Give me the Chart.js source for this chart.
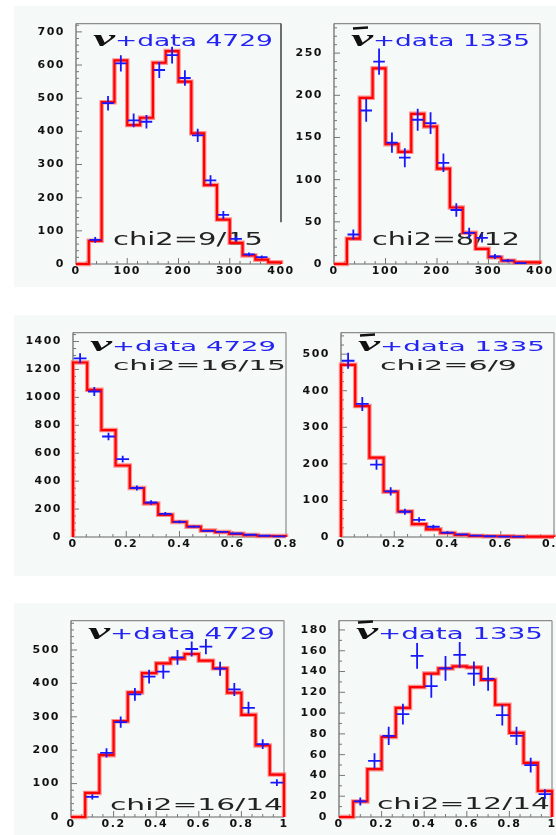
<!DOCTYPE html>
<html>
<head>
<meta charset="utf-8">
<script src="https://cdn.jsdelivr.net/npm/chart.js@4.4.0/dist/chart.umd.min.js"></script>
<style>
html, body { margin: 0; padding: 0; background: #fff; width: 556px; height: 835px; overflow: hidden; }
body { position: relative; }
.band { position: absolute; left: 14px; width: 542px; background: #f5f9f7; }
.box { position: absolute; }
</style>
</head>
<body>
<div class="band" style="top:6px;height:281px"></div>
<div class="band" style="top:315px;height:261px"></div>
<div class="band" style="top:603px;height:232px"></div>

<div class="box" id="b1"><canvas id="c1"></canvas></div>
<div class="box" id="b2"><canvas id="c2"></canvas></div>
<div class="box" id="b3"><canvas id="c3"></canvas></div>
<div class="box" id="b4"><canvas id="c4"></canvas></div>
<div class="box" id="b5"><canvas id="c5"></canvas></div>
<div class="box" id="b6"><canvas id="c6"></canvas></div>

<script>
// bin ranges (lo, hi) for each row, number of bins comes from the arrays
const rangeTop = [0, 400];
const rangeMid = [0, 0.8];
const rangeBot = [0, 1];

// top row: nu / nubar, 16 bins of 25
const nuTopMC    = [0, 70, 488, 614, 419, 441, 607, 642, 550, 394, 238, 134, 64, 26, 13, 5];
const nuTopData  = [0, 73, 485, 605, 433, 429, 585, 630, 561, 388, 252, 148, 76, 29, 21, 0];
const anuTopMC   = [0, 30, 197, 232, 142, 133, 178, 163, 113, 67, 37, 18, 8, 4, 2, 2];
const anuTopData = [0, 35, 182, 240, 144, 126, 171, 167, 120, 64, 37, 31, 9, 4, 1, 0];

// middle row: 15 bins from 0 to 0.8
const nuMidMC    = [1250, 1054, 766, 512, 351, 240, 159, 108, 74, 46, 35, 23, 14, 7, 7];
const nuMidData  = [1280, 1042, 720, 558, 351, 247, 166, 108, 74, 44, 37, 25, 16, 9, 5];
const anuMidMC   = [471, 358, 217, 124, 70, 35, 21, 11, 6, 3, 2, 2, 1, 1, 1];
const anuMidData = [482, 364, 198, 125, 69, 47, 28, 12, 7, 4, 2, 1, 1, 0, 0];

// bottom row: 15 bins from 0 to 1
const nuBotMC    = [0, 72, 185, 287, 373, 431, 460, 474, 488, 468, 445, 372, 306, 214, 127];
const nuBotData  = [0, 60, 192, 284, 367, 420, 435, 478, 503, 510, 444, 382, 327, 218, 103];
const anuBotMC   = [0, 15, 46, 77, 105, 125, 138, 143, 145, 144, 132, 108, 81, 52, 25];
const anuBotData = [0, 15, 54, 78, 99, 155, 126, 143, 156, 138, 133, 98, 78, 50, 22];

const titles = ['+data 4729', '+data 1335', '+data 4729', '+data 1335', '+data 4729', '+data 1335'];
const chi2Labels = ['chi2=9/15', 'chi2=8/12', 'chi2=16/15', 'chi2=6/9', 'chi2=16/14', 'chi2=12/14'];

// layout: canvas box [left, top, right, bottom] and plot area on page
const panels = [
  { box: [14, 6, 305, 287],   area: [76, 10, 281, 264],   range: rangeTop, mc: nuTopMC,  data: nuTopData,
    yMax: 725, yStep: 100, yMinor: 20, xStep: 100, xMinor: 20, anti: false, rightTo: 126,
    titleY: 22, titleSize: 16, titleW: 158, chiX: 37, chiY: -19, chiSize: 17, chiW: 150 },
  { box: [289, 6, 600, 287],  area: [334, 10, 540, 264],  range: rangeTop, mc: anuTopMC, data: anuTopData,
    yMax: 285, yStep: 50, yMinor: 10, xStep: 100, xMinor: 20, anti: true,
    titleY: 22, titleSize: 16, titleW: 157, chiX: 38, chiY: -19, chiSize: 17, chiW: 148 },
  { box: [14, 315, 310, 576], area: [73, 325, 286, 537],  range: rangeMid, mc: nuMidMC,  data: nuMidData,
    yMax: 1464, yStep: 200, yMinor: 50, xStep: 0.2, xMinor: 0.05, anti: false,
    titleY: 18, titleSize: 14, titleW: 164, chiX: 40, chiY: 37, chiSize: 14, chiW: 173 },
  { box: [300, 315, 620, 576], area: [341, 325, 554, 537], range: rangeMid, mc: anuMidMC, data: anuMidData,
    yMax: 559, yStep: 100, yMinor: 25, xStep: 0.2, xMinor: 0.05, anti: true,
    titleY: 18, titleSize: 14, titleW: 165, chiX: 39, chiY: 37, chiSize: 14, chiW: 137 },
  { box: [14, 603, 310, 835], area: [71, 612, 284, 817],  range: rangeBot, mc: nuBotMC,  data: nuBotData,
    yMax: 588, yStep: 100, yMinor: 20, xStep: 0.2, xMinor: 0.05, anti: false,
    titleY: 18, titleSize: 15, titleW: 165, chiX: 39, chiY: -7, chiSize: 15, chiW: 173 },
  { box: [300, 603, 620, 835], area: [339, 612, 552, 817], range: rangeBot, mc: anuBotMC, data: anuBotData,
    yMax: 189, yStep: 20, yMinor: 10, xStep: 0.2, xMinor: 0.05, anti: true,
    titleY: 18, titleSize: 15, titleW: 165, chiX: 38, chiY: -8, chiSize: 15, chiW: 173 }
];

function stepPoints(range, vals) {
  const w = (range[1] - range[0]) / vals.length;
  const pts = [{ x: range[0], y: 0 }];
  vals.forEach((v, i) => pts.push({ x: range[0] + i * w, y: v }));
  pts.push({ x: range[1], y: vals[vals.length - 1] });
  pts.push({ x: range[1], y: 0 });
  return pts;
}

function centerPoints(range, vals) {
  const w = (range[1] - range[0]) / vals.length;
  return vals.map((v, i) => ({ x: range[0] + (i + 0.5) * w, y: v }));
}

// text squeezed / stretched to a given width
function wideText(ctx, str, x, yb, font, color, width) {
  ctx.save();
  ctx.font = font;
  ctx.fillStyle = color;
  ctx.textAlign = 'left';
  ctx.textBaseline = 'alphabetic';
  const w = ctx.measureText(str).width;
  ctx.translate(x, yb);
  ctx.scale(width / w, 1);
  ctx.fillText(str, 0, 0);
  ctx.restore();
}

function isMajor(v, step) {
  const r = v / step;
  return Math.abs(r - Math.round(r)) < 1e-6;
}

const tickLabel = v => String(Number(v.toFixed(2)));

const histoPlugin = {
  id: 'histo',
  beforeDraw(chart) {
    chart.ctx.letterSpacing = '1.5px';
  },
  beforeDatasetsDraw(chart, args, opts) {
    const p = opts.panel;
    const { ctx, chartArea: a, scales: { x, y } } = chart;
    ctx.save();
    ctx.letterSpacing = '0px';

    // frame: top and right
    ctx.lineWidth = 1.2;
    ctx.strokeStyle = '#8c8c8c';
    ctx.beginPath();
    ctx.moveTo(a.left, a.top);
    ctx.lineTo(a.right, a.top);
    ctx.stroke();
    ctx.beginPath();
    ctx.moveTo(a.right, a.top);
    if (p.rightTo != null) {
      ctx.strokeStyle = '#111';
      ctx.lineTo(a.right, y.getPixelForValue(p.rightTo));
    } else {
      ctx.lineTo(a.right, a.bottom);
    }
    ctx.stroke();

    // axes
    ctx.strokeStyle = '#666';
    ctx.beginPath();
    ctx.moveTo(a.left, a.top);
    ctx.lineTo(a.left, a.bottom);
    ctx.lineTo(a.right, a.bottom);
    ctx.stroke();

    // inward ticks
    ctx.lineWidth = 1;
    ctx.strokeStyle = '#777';
    ctx.beginPath();
    const ny = Math.floor(p.yMax / p.yMinor + 1e-6);
    for (let i = 1; i <= ny; i++) {
      const v = i * p.yMinor;
      const py = y.getPixelForValue(v);
      ctx.moveTo(a.left, py);
      ctx.lineTo(a.left + (isMajor(v, p.yStep) ? 6 : 3), py);
    }
    const span = p.range[1] - p.range[0];
    const nx = Math.round(span / p.xMinor);
    for (let i = 1; i < nx; i++) {
      const v = p.range[0] + i * p.xMinor;
      const px = x.getPixelForValue(v);
      ctx.moveTo(px, a.bottom);
      ctx.lineTo(px, a.bottom - (isMajor(v, p.xStep) ? 6 : 3));
    }
    ctx.stroke();

    // title: nu (or nubar) + data count
    const nx0 = a.left + 17;
    const by = a.top + p.titleY;
    wideText(ctx, 'ν', nx0, by, 'italic bold ' + (p.titleSize + 8) + 'px "Liberation Serif"', '#111', 22);
    if (p.anti) {
      ctx.strokeStyle = '#111';
      ctx.lineWidth = 2.5;
      ctx.beginPath();
      ctx.moveTo(nx0 + 2, by - p.titleSize - 1);
      ctx.lineTo(nx0 + 17, by - p.titleSize - 2);
      ctx.stroke();
    }
    wideText(ctx, p.title, a.left + 39, by, p.titleSize + 'px "DejaVu Sans"', '#2424f2', p.titleW);

    // chi2 text
    const cy = p.chiY < 0 ? a.bottom + p.chiY : a.top + p.chiY;
    wideText(ctx, p.chi, a.left + p.chiX, cy, p.chiSize + 'px "DejaVu Sans"', '#222', p.chiW);
    ctx.restore();
  },
  afterDatasetsDraw(chart, args, opts) {
    const p = opts.panel;
    const { ctx, scales: { x, y } } = chart;
    const meta = chart.getDatasetMeta(2);
    const binW = (p.range[1] - p.range[0]) / p.data.length;
    const halfPx = (x.getPixelForValue(binW) - x.getPixelForValue(0)) * 0.45;
    ctx.save();
    ctx.strokeStyle = '#1818ff';
    ctx.lineWidth = 1.8;
    ctx.beginPath();
    meta.data.forEach((el, i) => {
      const v = p.data[i];
      if (!v) return;
      const err = Math.sqrt(v);
      ctx.moveTo(el.x - halfPx, el.y);
      ctx.lineTo(el.x + halfPx, el.y);
      ctx.moveTo(el.x, y.getPixelForValue(v + err));
      ctx.lineTo(el.x, y.getPixelForValue(Math.max(v - err, 0)));
    });
    ctx.stroke();
    ctx.restore();
  }
};

const tickFont = { family: '"DejaVu Sans", sans-serif', weight: 'bold', size: 11 };

panels.forEach((p, k) => {
  p.title = titles[k];
  p.chi = chi2Labels[k];
  const box = document.getElementById('b' + (k + 1));
  const [bl, bt, br, bb] = p.box;
  const [al, at, ar, ab] = p.area;
  box.style.left = bl + 'px';
  box.style.top = bt + 'px';
  box.style.width = (br - bl) + 'px';
  box.style.height = (bb - bt) + 'px';

  new Chart(document.getElementById('c' + (k + 1)), {
    type: 'scatter',
    data: {
      datasets: [
        { data: stepPoints(p.range, p.mc), showLine: true, stepped: 'before', borderColor: '#ff0000',
          borderWidth: 2.2, pointRadius: 0, clip: false },
        { data: stepPoints(p.range, p.mc), showLine: true, stepped: 'before', borderColor: 'rgba(255,110,110,0.75)',
          borderWidth: 4.5, pointRadius: 0, clip: false },
        { data: centerPoints(p.range, p.data), pointRadius: 0, showLine: false }
      ]
    },
    options: {
      responsive: true,
      maintainAspectRatio: false,
      animation: false,
      events: [],
      layout: { padding: { left: 0, top: at - bt, right: br - ar, bottom: 0 } },
      plugins: {
        legend: { display: false },
        tooltip: { enabled: false },
        histo: { panel: p }
      },
      scales: {
        x: {
          type: 'linear',
          min: p.range[0],
          max: p.range[1],
          grid: { display: false, drawTicks: false },
          border: { display: false },
          ticks: { stepSize: p.xStep, includeBounds: false, autoSkip: false, maxRotation: 0,
                   padding: 1, color: '#111', font: tickFont, callback: tickLabel },
          afterFit: s => { s.height = bb - ab; }
        },
        y: {
          min: 0,
          max: p.yMax,
          grid: { display: false, drawTicks: false },
          border: { display: false },
          ticks: { stepSize: p.yStep, includeBounds: false, padding: 11, color: '#111', font: tickFont,
                   callback: tickLabel },
          afterFit: s => { s.width = al - bl; }
        }
      }
    },
    plugins: [histoPlugin]
  });
});
</script>
</body>
</html>
